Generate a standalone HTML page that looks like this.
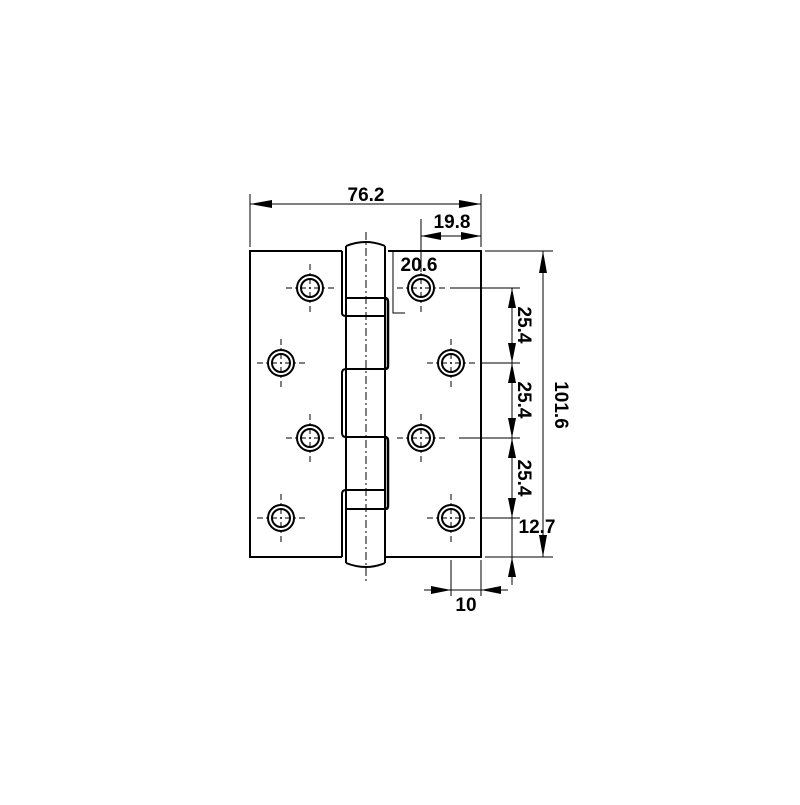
<!DOCTYPE html>
<html><head><style>body{margin:0;background:#fff}</style></head><body>
<svg width="800" height="800" viewBox="0 0 800 800" xmlns="http://www.w3.org/2000/svg" font-family="Liberation Sans, sans-serif" font-weight="bold">
<rect width="800" height="800" fill="#fff"/>
<g stroke="#000" fill="none" stroke-width="2">
<path d="M342 251 H250 V557 H342"/>
<path d="M388 251 H481 V557 H386"/>
<path d="M346 246 Q366 238 385 246"/>
<line x1="346" y1="246" x2="346" y2="563"/>
<line x1="385" y1="246" x2="385" y2="563"/>
<path d="M346 563 Q366 571 385 563"/>
<line x1="346" y1="298" x2="385" y2="298"/>
<line x1="346" y1="316" x2="385" y2="316"/>
<line x1="346" y1="369" x2="385" y2="369"/>
<line x1="346" y1="437" x2="385" y2="437"/>
<line x1="346" y1="490" x2="385" y2="490"/>
<line x1="346" y1="509" x2="385" y2="509"/>
<path d="M342 251 V313 Q342 316 346 316"/>
<path d="M346 369 Q342 369 342 373 V433 Q342 437 346 437"/>
<path d="M346 490 Q342 490 342 494 V557"/>
<path d="M385 298 Q388 298 388 302 V366 Q388 369 385 369" stroke-width="2.5"/>
<path d="M385 437 Q388 437 388 441 V506 Q388 509 385 509" stroke-width="2.5"/>
</g>
<line x1="366" y1="232" x2="366" y2="582" stroke="#000" stroke-width="1" stroke-dasharray="8,3,2,3"/>
<g stroke="#000" fill="none">
<circle cx="310" cy="288" r="13" stroke-width="2"/><circle cx="310" cy="288" r="9" stroke-width="2"/>
<circle cx="281" cy="363" r="13" stroke-width="2"/><circle cx="281" cy="363" r="9" stroke-width="2"/>
<circle cx="310" cy="438" r="13" stroke-width="2"/><circle cx="310" cy="438" r="9" stroke-width="2"/>
<circle cx="281" cy="518" r="13" stroke-width="2"/><circle cx="281" cy="518" r="9" stroke-width="2"/>
<circle cx="421" cy="288" r="13" stroke-width="2"/><circle cx="421" cy="288" r="9" stroke-width="2"/>
<circle cx="451" cy="363" r="13" stroke-width="2"/><circle cx="451" cy="363" r="9" stroke-width="2"/>
<circle cx="421" cy="438" r="13" stroke-width="2"/><circle cx="421" cy="438" r="9" stroke-width="2"/>
<circle cx="451" cy="518" r="13" stroke-width="2"/><circle cx="451" cy="518" r="9" stroke-width="2"/>
<g stroke-width="1" stroke-dasharray="6,3,2,3">
<path d="M286 288 H334 M310 264 V312"/>
<path d="M257 363 H305 M281 339 V387"/>
<path d="M286 438 H334 M310 414 V462"/>
<path d="M257 518 H305 M281 494 V542"/>
<path d="M397 288 H445 M421 264 V312"/>
<path d="M427 363 H475 M451 339 V387"/>
<path d="M397 438 H445 M421 414 V462"/>
<path d="M427 518 H475 M451 494 V542"/>
</g>
</g>
<g stroke="#000" stroke-width="1" fill="none">
<line x1="250" y1="194" x2="250" y2="247"/>
<line x1="481" y1="194" x2="481" y2="247"/>
<line x1="250" y1="204" x2="481" y2="204"/>
<line x1="421" y1="219" x2="421" y2="272"/>
<line x1="421" y1="236" x2="481" y2="236"/>
<path d="M393 251 V313 H405"/>
<line x1="485" y1="251" x2="553" y2="251"/>
<line x1="450" y1="288" x2="520" y2="288"/>
<line x1="480" y1="363" x2="520" y2="363"/>
<line x1="459" y1="438" x2="520" y2="438"/>
<line x1="480" y1="518" x2="520" y2="518"/>
<line x1="485" y1="557" x2="553" y2="557"/>
<line x1="512" y1="288" x2="512" y2="585"/>
<line x1="543" y1="251" x2="543" y2="557"/>
<line x1="451" y1="560" x2="451" y2="596"/>
<line x1="481" y1="560" x2="481" y2="596"/>
<line x1="424" y1="590" x2="508" y2="590"/>
</g>
<g fill="#000">
<polygon points="250,204 272,200 272,208"/>
<polygon points="481,204 459,200 459,208"/>
<polygon points="421,236 441,232 441,240"/>
<polygon points="481,236 461,232 461,240"/>
<polygon points="543,251 539,273 547,273"/>
<polygon points="543,557 539,535 547,535"/>
<polygon points="512,288 508,308 516,308"/>
<polygon points="512,363 508,343 516,343"/>
<polygon points="512,363 508,383 516,383"/>
<polygon points="512,438 508,418 516,418"/>
<polygon points="512,438 508,458 516,458"/>
<polygon points="512,518 508,498 516,498"/>
<polygon points="512,557 508,577 516,577"/>
<polygon points="451,590 431,586 431,594"/>
<polygon points="481,590 501,586 501,594"/>
</g>
<g font-size="19" fill="#000">
<text x="366" y="201" text-anchor="middle">76.2</text>
<text x="452" y="228" text-anchor="middle">19.8</text>
<text x="419" y="271" text-anchor="middle">20.6</text>
<text x="537" y="533" text-anchor="middle">12.7</text>
<text x="466" y="611" text-anchor="middle">10</text>
<text transform="translate(518,325) rotate(90)" text-anchor="middle">25.4</text>
<text transform="translate(518,400) rotate(90)" text-anchor="middle">25.4</text>
<text transform="translate(518,478) rotate(90)" text-anchor="middle">25.4</text>
<text transform="translate(555,405) rotate(90)" text-anchor="middle">101.6</text>
</g>
</svg>
</body></html>
